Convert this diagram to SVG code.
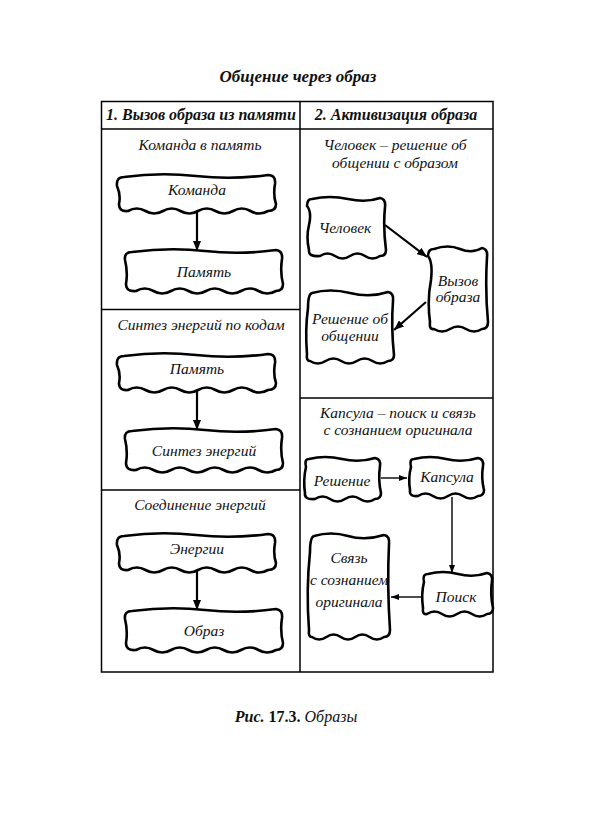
<svg xmlns="http://www.w3.org/2000/svg" width="591" height="820" viewBox="0 0 591 820">
<style>
text{font-family:"Liberation Serif","Times New Roman",serif;font-style:italic;fill:#111;text-anchor:middle}
.ttl{font-size:17px;font-weight:bold}
.hdr{font-size:16px;font-weight:bold}
.sec{font-size:15.5px}
.nd{font-size:15.5px}
.cap{font-size:16px}
.box{fill:#fff;stroke:#000;stroke-width:2.6;stroke-linejoin:round}
.tbl{fill:none;stroke:#000;stroke-width:1.5}
.con{fill:none;stroke:#000;stroke-width:2.2}
.con2{fill:none;stroke:#000;stroke-width:1.4}
</style>
<defs>
<marker id="ah" viewBox="0 0 10 8" refX="10" refY="4" markerWidth="10" markerHeight="8" markerUnits="userSpaceOnUse" orient="auto"><path d="M0,0 L10,4 L0,8 Z" fill="#000"/></marker>
<marker id="ah2" viewBox="0 0 8 6" refX="8" refY="3" markerWidth="8" markerHeight="6" markerUnits="userSpaceOnUse" orient="auto"><path d="M0,0 L8,3 L0,6 Z" fill="#000"/></marker>
<path id="boxA" class="box" d="M124,177 Q160,172 196,176 T268,175 Q276,175 275,184 Q273,195 276,204 Q276,211 268,211 Q259.25,216 250.5,211 T233,211 T215.5,211 T198,211 T180.5,211 T163,211 T145.5,211 T128,211 Q119,212 119,204 Q121,195 117,186 Q116,177 124,177 Z"/>
<path id="boxB" class="box" d="M132,252 Q170,247 205,251 T276,250 Q283,251 282,259 Q280,272 283,284 Q283,291 276,291 Q267.25,296 258.5,291 T241,291 T223.5,291 T206,291 T188.5,291 T171,291 T153.5,291 T136,291 Q126,292 126,284 Q128,272 125,260 Q124,252 132,252 Z"/>
</defs>
<rect width="591" height="820" fill="#fff"/>
<text class="ttl" x="298" y="82">Общение через образ</text>
<g id="table">
<rect class="tbl" x="101.5" y="101.5" width="391.5" height="570.5"/>
<line class="tbl" x1="101.5" y1="129" x2="493" y2="129"/>
<line class="tbl" x1="300" y1="101.5" x2="300" y2="672"/>
<line class="tbl" x1="101.5" y1="309.5" x2="300" y2="309.5"/>
<line class="tbl" x1="101.5" y1="490" x2="300" y2="490"/>
<line class="tbl" x1="300" y1="398" x2="493" y2="398"/>
</g>
<text class="hdr" x="201" y="120">1. Вызов образа из памяти</text>
<text class="hdr" x="396" y="120">2. Активизация образа</text>
<text class="sec" x="200" y="150">Команда в память</text>
<text class="sec" x="201" y="330">Синтез энергий по кодам</text>
<text class="sec" x="200" y="510">Соединение энергий</text>
<text class="sec" x="395" y="150">Человек – решение об</text>
<text class="sec" x="395" y="168">общении с образом</text>
<text class="sec" x="398" y="418">Капсула – поиск и связь</text>
<text class="sec" x="398" y="435">с сознанием оригинала</text>
<g id="connectors">
<line class="con" x1="197" y1="211" x2="197" y2="251" marker-end="url(#ah)"/>
<line class="con" x1="197" y1="390" x2="197" y2="430" marker-end="url(#ah)"/>
<line class="con" x1="197" y1="570" x2="197" y2="610" marker-end="url(#ah)"/>
<line class="con" x1="385" y1="225" x2="427" y2="257" marker-end="url(#ah)"/>
<line class="con" x1="426" y1="302" x2="394" y2="330" marker-end="url(#ah)"/>
<line class="con2" x1="381" y1="478" x2="407" y2="478" marker-end="url(#ah2)"/>
<line class="con2" x1="452" y1="497" x2="452" y2="573" marker-end="url(#ah2)"/>
<line class="con2" x1="421" y1="597" x2="391" y2="597" marker-end="url(#ah2)"/>
</g>
<g id="n-komanda"><use href="#boxA"/><text class="nd" x="197" y="195">Команда</text></g>
<g id="n-pamyat1"><use href="#boxB"/><text class="nd" x="204" y="277">Память</text></g>
<g id="n-pamyat2"><use href="#boxA" transform="translate(0,179)"/><text class="nd" x="197" y="374">Память</text></g>
<g id="n-sintez"><use href="#boxB" transform="translate(0,179)"/><text class="nd" x="204" y="456">Синтез энергий</text></g>
<g id="n-energii"><use href="#boxA" transform="translate(0,359)"/><text class="nd" x="197" y="554">Энергии</text></g>
<g id="n-obraz"><use href="#boxB" transform="translate(0,359)"/><text class="nd" x="204" y="636">Образ</text></g>
<g id="n-chelovek"><path class="box" d="M312,199 Q330,195 348,199 T380,198 Q386,199 385,207 Q383,227 386,250 Q386,256 380,256 Q372.5,261 365,256 T350,256 T335,256 T320,256 Q308,257 309,250 Q306,237 309,225 Q312,212 307,206 Q307,199 312,199 Z"/><text class="nd" x="345" y="233">Человек</text></g>
<g id="n-vyzov"><path class="box" d="M434,249 Q448,244 460,249 T482,248 Q488,249 487,257 Q485,290 488,322 Q488,329 482,329 Q474,334 466,329 T450,329 T434,329 Q429,330 430,322 Q427,300 431,280 Q433,262 428,256 Q428,249 434,249 Z"/><text class="nd" x="458" y="286">Вызов</text><text class="nd" x="458" y="302">образа</text></g>
<g id="n-reshenie-ob"><path class="box" d="M312,293 Q330,288 350,293 T388,292 Q394,293 393,301 Q391,327 394,355 Q394,361 388,361 Q380.2,366 372.4,361 T356.8,361 T341.2,361 T325.6,361 T310,361 Q306,361 307,354 Q305,330 308,308 Q308,294 312,293 Z"/><text class="nd" x="350" y="324">Решение об</text><text class="nd" x="350" y="341">общении</text></g>
<g id="n-reshenie"><path class="box" d="M309,459 Q325,455 342,459 T375,458 Q381,459 380,466 Q378,480 381,493 Q381,499 375,499 Q367.5,504 360,499 T345,499 T330,499 T315,499 Q304,500 305,493 Q303,480 306,467 Q304,459 309,459 Z"/><text class="nd" x="342" y="486">Решение</text></g>
<g id="n-kapsula"><path class="box" d="M414,459 Q430,455 446,459 T478,458 Q484,459 483,466 Q481,478 484,490 Q484,496 478,496 Q470.5,501 463,496 T448,496 T433,496 T418,496 Q409,497 410,490 Q408,478 411,467 Q409,459 414,459 Z"/><text class="nd" x="447" y="482">Капсула</text></g>
<g id="n-poisk"><path class="box" d="M428,574 Q443,570 458,574 T487,573 Q493,574 492,581 Q490,594 493,608 Q493,614 487,614 Q479.5,619 472,614 T457,614 T442,614 T427,614 Q422,615 423,608 Q421,594 424,582 Q422,574 428,574 Z"/><text class="nd" x="456" y="602">Поиск</text></g>
<g id="n-svyaz"><path class="box" d="M314,536 Q331,531 348,536 T384,535 Q390,536 389,544 Q387,586 390,630 Q390,637 384,637 Q376.8,642 369.6,637 T355.2,637 T340.8,637 T326.4,637 T312,637 Q308,637 309,630 Q306,590 310,552 Q310,537 314,536 Z"/><text class="nd" x="349" y="563">Связь</text><text class="nd" x="349" y="585">с сознанием</text><text class="nd" x="349" y="607">оригинала</text></g>
<text class="cap" x="296" y="722"><tspan font-weight="bold">Рис. <tspan font-style="normal">17.3.</tspan></tspan> Образы</text>
</svg>
